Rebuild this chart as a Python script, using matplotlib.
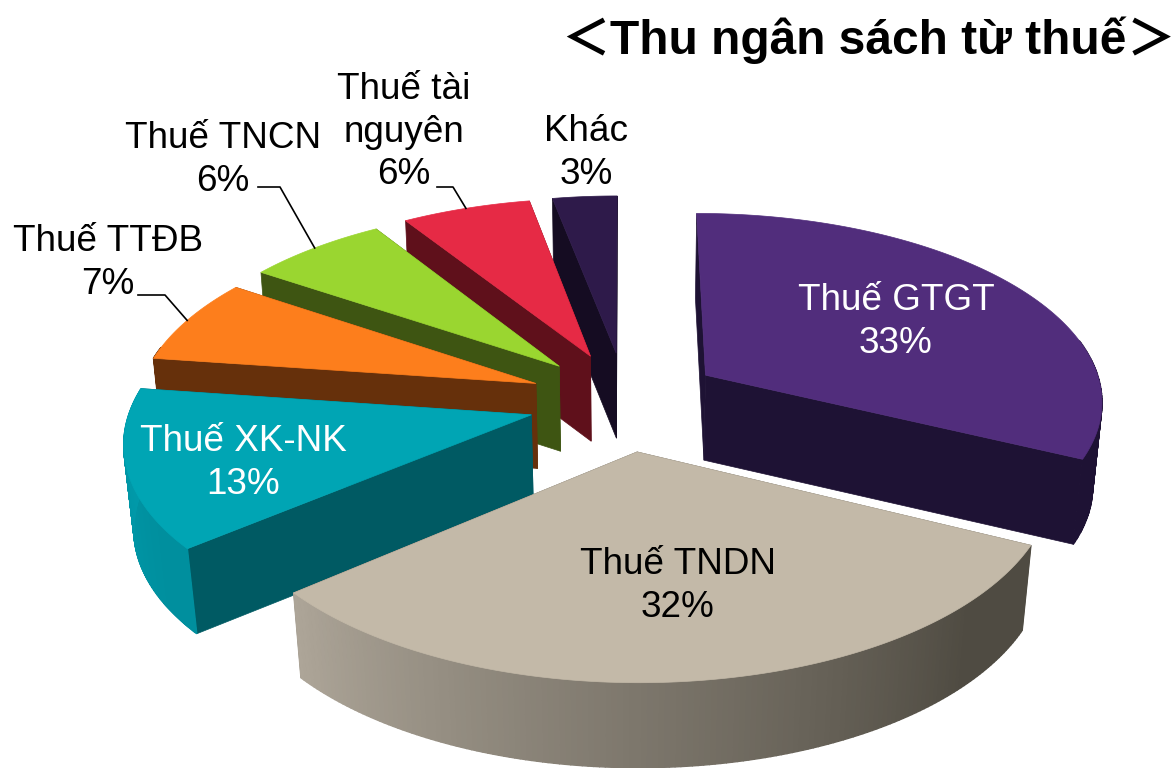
import numpy as np
import matplotlib
matplotlib.use('Agg')
import matplotlib.pyplot as plt
from matplotlib.patches import Polygon
from matplotlib.colors import to_rgb

# Data
names = ['Thuế GTGT', 'Thuế TNDN', 'Thuế XK-NK', 'Thuế TTĐB', 'Thuế TNCN', 'Thuế tài\nnguyên', 'Khác']
shares = [33, 32, 13, 7, 6, 6, 3]

top_colors = ['#512d7c', '#c3b9a8', '#00a5b4', '#fd7e1c', '#9ad630', '#e62a45', '#2e1a4a']
side_colors = ['#1e1234', '#5a554b', '#005a63', '#66300b', '#3e5512', '#5f101b', '#150c22']
wall_start = ['#1e1234', '#4f4b42', '#008f9e', '#66300b', '#3e5512', '#5f101b', '#150c22']
wall_end = ['#1e1234', '#ada598', '#009cac', '#66300b', '#3e5512', '#5f101b', '#150c22']
text_colors = ['white', 'black', 'white', 'black', 'black', 'black', 'black']

# Scene settings, in pixels
cx, cy = 625, 401
rx, ry = 399, 188
height = 85
persp, persp_z = 0.125, 0.02
explode_x, explode_y = 0.242, 0.264

# the 3D view bends the angles a bit (true angle -> drawn angle)
true_deg = [0, 118.8, 234, 280.8, 306, 327.6, 360]
view_deg = [0, 116, 230, 278, 304, 327.6, 360]


def project(x, y, z):
    w = 1 + persp * y
    u = cx + rx * x / (w + persp_z * (1 - z))
    v = cy - ry * y / w + height * (1 - z)
    return u, v


def ring(apex, ang):
    return apex[0] + np.sin(ang), apex[1] + np.cos(ang)


fig = plt.figure(figsize=(11.74, 7.68), dpi=100)
ax = fig.add_axes([0, 0, 1, 1])
ax.set_xlim(0, 1174)
ax.set_ylim(768, 0)
ax.axis('off')

edges = np.radians(np.interp(np.cumsum([0] + shares) * 3.6, true_deg, view_deg))
mids = (edges[:-1] + edges[1:]) / 2
apexes = [(explode_x * np.sin(m), explode_y * np.cos(m)) for m in mids]

# back slices first
order = sorted(range(len(shares)), key=lambda i: -apexes[i][1])
for i in order:
    apex = apexes[i]
    angs = np.linspace(edges[i], edges[i + 1], 160)
    arc_x, arc_y = ring(apex, angs)

    # flat walls
    for a in (edges[i + 1], edges[i]):
        ex, ey = ring(apex, a)
        pts = [project(apex[0], apex[1], 1), project(ex, ey, 1), project(ex, ey, 0), project(apex[0], apex[1], 0)]
        ax.add_patch(Polygon(pts, closed=True, fc=side_colors[i], ec=side_colors[i], lw=0.5))

    # round wall, only the part facing us
    c0, c1 = np.array(to_rgb(wall_start[i])), np.array(to_rgb(wall_end[i]))
    for k in range(len(angs) - 1):
        if np.cos(angs[k]) > 0.2:
            continue
        t = np.clip((k / (len(angs) - 2) - 0.15) / 0.85, 0, 1)
        col = c0 + (c1 - c0) * t
        pts = [project(arc_x[k], arc_y[k], 1), project(arc_x[k + 1], arc_y[k + 1], 1),
               project(arc_x[k + 1], arc_y[k + 1], 0), project(arc_x[k], arc_y[k], 0)]
        ax.add_patch(Polygon(pts, closed=True, fc=col, ec=col, lw=1.0))

    # top face
    pts = [project(apex[0], apex[1], 1)] + [project(x, y, 1) for x, y in zip(arc_x, arc_y)]
    ax.add_patch(Polygon(pts, closed=True, fc=top_colors[i], ec=top_colors[i], lw=0.5))

# Labels
font = ['Liberation Sans', 'DejaVu Sans']
label_pos = [(896, 322), (678, 586), (243, 463), (108, 263), (223, 160), (404, 132), (586, 153)]
for name, share, pos, col in zip(names, shares, label_pos, text_colors):
    ax.text(pos[0], pos[1], f'{name}\n{share}%', color=col, fontsize=26.6, family=font,
            ha='center', va='center', linespacing=1.27)

# Leader lines from the label to the middle of the slice rim
leaders = {3: [(138, 295), (165, 295)], 4: [(258, 187), (280, 187)], 5: [(437, 187), (453, 187)]}
for i, elbow in leaders.items():
    ex, ey = ring(apexes[i], mids[i])
    end = project(ex, ey, 1)
    ax.plot([elbow[0][0], elbow[1][0], end[0]], [elbow[0][1], elbow[1][1], end[1]], color='black', lw=1.2)

# Title
ax.text(868, 40, 'Thu ngân sách từ thuế', fontsize=34.5, fontweight='bold', family=font,
        ha='center', va='center')
ax.text(585, 40, '＜', fontsize=35, fontweight='bold', family=['Noto Sans CJK SC', 'DejaVu Sans'], ha='center', va='center')
ax.text(1151, 40, '＞', fontsize=35, fontweight='bold', family=['Noto Sans CJK SC', 'DejaVu Sans'], ha='center', va='center')

fig.savefig('out.png', dpi=100)
